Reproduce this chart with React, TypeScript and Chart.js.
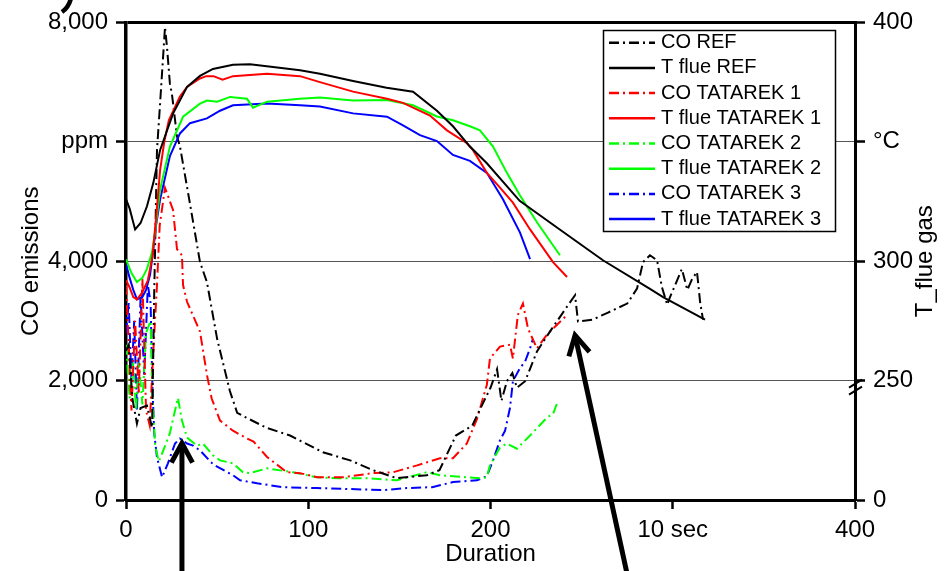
import React, { useEffect, useRef } from 'react';
import { Chart, registerables } from 'chart.js';

Chart.register(...registerables);

const FONT = "'Liberation Sans', Arial, Helvetica, sans-serif";

// ---- axis ticks ----
const X_TICK_VALUES = [0, 100, 200, 300, 400];
const X_TICK_LABELS = ['0', '100', '200', '10 sec', '400'];
const Y_TICK_VALUES = [0, 2000, 4000, 6000, 8000];
const Y_TICK_LABELS = ['0', '2,000', '4,000', 'ppm', '8,000'];
const Y2_TICK_VALUES = [200, 250, 300, 350, 400];
const Y2_TICK_LABELS = ['0', '250', '300', '°C', '400'];

const X_TITLE = 'Duration';
const Y_TITLE = 'CO emissions';
const Y2_TITLE = 'T_flue gas';

const SERIES_NAMES = [
  'CO REF',
  'T flue REF',
  'CO TATAREK 1',
  'T flue TATAREK 1',
  'CO TATAREK 2',
  'T flue TATAREK 2',
  'CO TATAREK 3',
  'T flue TATAREK 3',
];

// ---- CO emissions [duration, ppm] ----
const CO_REF: number[][] = [
  [0, 2500], [1.5, 2600], [3.5, 1700], [6, 1280], [8, 1540], [11.5, 1580], [14.3, 1210],
  [15, 2500], [15.5, 3500], [17, 5860], [18.7, 6640], [21.4, 7920], [22.5, 7585], [24.1, 6970],
  [25.2, 6800], [28, 6090], [29.6, 5925], [35, 4980], [40.6, 3985], [44.4, 3650], [50, 2700],
  [57, 1825], [61, 1460], [66, 1380], [77, 1210], [90, 1080], [108, 800], [123, 664],
  [135.5, 500], [148.7, 365], [165, 415], [172, 500], [181, 1080], [190, 1245], [193, 1440],
  [200, 1880], [203.6, 2190], [206, 1660], [209, 1990], [212, 2125], [214.5, 1880], [219, 1990],
  [225.5, 2490], [232.6, 2820], [242, 3240], [246.4, 3430], [248, 2990], [256, 3020],
  [264.5, 3140], [275, 3290], [280.4, 3540], [283.7, 3985], [287.5, 4100], [291.4, 4015],
  [294, 3570], [297, 3270], [298.5, 3400], [302, 3650], [305, 3870], [308, 3520], [310.6, 3700],
  [313.3, 3820], [315, 3320], [316.6, 3020],
];

const CO_T1: number[][] = [
  [0, 3600], [1.5, 2600], [3, 1500], [5, 3000], [7, 1800], [9, 3700], [11, 1500], [13, 1250],
  [15, 2500], [17, 3600], [18.5, 4600], [21.4, 5230], [25.8, 4860], [28, 4200], [30.7, 4100],
  [31.3, 3600], [33.5, 3320], [40.6, 2820], [44.4, 2100], [47, 1700], [51.6, 1330], [55, 1250],
  [58.7, 1160], [66.4, 1030], [70, 980], [77.4, 720], [88.3, 465], [95.5, 450], [105, 380],
  [119, 380], [135.5, 450], [146.5, 465], [159.7, 580], [172.3, 700], [179.4, 700], [187, 946],
  [192.6, 1360], [198, 1930], [199.7, 2370], [205.2, 2570], [210.7, 2600], [212.3, 2370],
  [215, 3100], [217.8, 3290], [220.6, 2870], [225.5, 2540], [231, 2770], [234.3, 2870], [242, 3100],
];

const CO_T2: number[][] = [
  [0, 2600], [2, 1700], [4, 2300], [5.5, 1500], [7, 2300], [9, 1600], [11, 2800], [13.5, 3000],
  [14.5, 1700], [16, 900], [18, 650], [19, 715], [24, 1110], [28.5, 1710], [30.7, 1330],
  [33.5, 1045], [39, 910], [42.2, 946], [47.7, 750], [51.6, 664], [58.7, 615], [64.2, 465],
  [68, 450], [77.4, 530], [91.6, 465], [104.8, 380], [117.4, 365], [132, 365], [148.7, 330],
  [165, 465], [172.3, 415], [187, 380], [194.2, 365], [198, 380], [199.7, 580], [205.2, 880],
  [209, 946], [214.5, 860], [221.7, 1080], [231, 1380], [234.3, 1440], [237, 1660],
];

const CO_T3: number[][] = [
  [0, 2800], [1.5, 3300], [3, 2000], [4.5, 3000], [6, 1500], [8, 3400], [10, 2100], [12, 3600],
  [13.5, 3300], [14.5, 1900], [15.5, 1110], [17, 715], [19.8, 380], [23, 615], [26.9, 946],
  [29.6, 1030], [33.5, 946], [36.8, 910], [40.6, 830], [47.7, 600], [50, 560], [58.7, 415],
  [62.6, 330], [71.9, 280], [86, 215], [104.8, 200], [123, 183], [141, 166], [154, 200],
  [168, 215], [179.4, 300], [192.6, 330], [198, 400], [201.4, 664], [205.2, 1000], [208, 1160],
  [210.7, 1545], [212.3, 1990], [216.2, 2210], [219, 2320], [221.7, 2540], [223.3, 2700],
];

// ---- flue gas temperature [duration, °C] ----
const T_REF: number[][] = [
  [0, 326], [2, 322], [5, 313.3], [8, 316], [11.5, 323], [15, 332.8], [18.7, 346.5],
  [25.8, 361.8], [33.5, 373], [40.6, 377.6], [47.7, 380.5], [58.7, 382.3], [68, 382.5],
  [80.7, 381.3], [95.5, 380], [106.4, 378.5], [124.6, 375.5], [143, 372.6], [157.5, 371],
  [170.6, 363], [179.4, 356.5], [188.7, 348], [198, 341], [216, 325.3], [238, 313.3],
  [261.7, 300.4], [287.5, 288.4], [294.7, 285], [317.7, 275.5],
];

const T_T1: number[][] = [
  [0, 292], [2, 289], [4, 285], [6, 284], [9, 287], [12, 292], [14.5, 302], [16.5, 318],
  [18.7, 338], [21, 350], [23.5, 359], [29.6, 369], [33.5, 373], [40.6, 376.5], [44, 377.5],
  [48, 377.5], [53, 376], [58.7, 377.5], [77.4, 378.5], [95.5, 377.5], [106.4, 375],
  [124.6, 371], [143.2, 368], [152, 366.3], [166.8, 361], [176.1, 354.8], [187.1, 349.4],
  [190.4, 346.5], [198, 337], [205.2, 330.8], [212.3, 324.5], [221.7, 313.3], [234.3, 299.6],
  [242, 293.4],
];

const T_T2: number[][] = [
  [0, 300.8], [3, 295], [6, 291.3], [9, 293], [11.5, 296.8], [14.3, 303.8], [15.9, 312],
  [18.7, 330], [24.1, 348], [31.3, 360.5], [40.6, 366], [44.4, 367.3], [50, 366.8],
  [57.1, 368.8], [66.4, 368], [69.7, 364.3], [77.4, 366.8], [95.5, 368], [106.4, 368.5],
  [124.6, 367.3], [143.2, 367.5], [157.5, 365.3], [170.6, 360.6], [179.4, 359], [188.7, 356.5],
  [194.2, 354.8], [201.4, 348], [209, 337], [216.2, 327.5], [225.5, 316.3], [238.1, 302.5],
];

const T_T3: number[][] = [
  [0, 298.8], [2, 293], [4, 288], [6, 284], [9, 285], [11, 288], [13.2, 294.3], [14.8, 303.8],
  [16.5, 315], [18.7, 325.8], [24.1, 344], [29.6, 353.5], [35.1, 357.8], [44.4, 359.8],
  [51.6, 363], [58.7, 365.3], [77.4, 366], [95.5, 365.3], [106.4, 364.8], [124.6, 361.9],
  [143.2, 360.5], [152, 356.9], [161.3, 352.8], [170.6, 350.3], [179.4, 344.5], [188.7, 342],
  [198, 337], [206.9, 325.8], [216.2, 312], [221.7, 300.9],
];

// ---- annotation arrows [duration, ppm] : tail -> tip ----
const ARROW_1 = [[30.7, -1400], [30.7, 950]];
const ARROW_2 = [[275.4, -1300], [246.4, 2760]];

const COLORS = ['#000000', '#000000', '#ff0000', '#ff0000', '#00ff00', '#00ff00', '#0000ff', '#0000ff'];
const DASH_DOT = [10, 4, 2, 4];

function makeDataset(i: number, data: number[][], axis: string) {
  const dashed = axis === 'y';
  return {
    label: SERIES_NAMES[i],
    data: data.map(([x, y]) => ({ x, y })),
    borderColor: COLORS[i],
    backgroundColor: COLORS[i],
    borderWidth: 2,
    borderDash: dashed ? DASH_DOT : [],
    pointRadius: 0,
    pointHoverRadius: 0,
    tension: 0,
    fill: false,
    yAxisID: axis,
    order: dashed ? 1 : 0,
  };
}

const decorPlugin = {
  id: 'decor',
  afterDraw(chart: any) {
    const ctx: CanvasRenderingContext2D = chart.ctx;
    const xs = chart.scales.x;
    const ys = chart.scales.y;
    const y2 = chart.scales.y2;

    // right axis title (reads bottom to top)
    ctx.save();
    ctx.fillStyle = '#000';
    ctx.font = `24px ${FONT}`;
    ctx.translate(932, (chart.chartArea.top + chart.chartArea.bottom) / 2);
    ctx.rotate(-Math.PI / 2);
    ctx.textAlign = 'center';
    ctx.textBaseline = 'alphabetic';
    ctx.fillText(Y2_TITLE, 0, 0);
    ctx.restore();

    // axis break marks on the right axis
    const bx = chart.chartArea.right;
    const by = y2.getPixelForValue(250);
    ctx.save();
    ctx.strokeStyle = '#000';
    ctx.lineWidth = 2;
    for (const dy of [3, 10]) {
      ctx.beginPath();
      ctx.moveTo(bx - 6, by + dy + 4);
      ctx.lineTo(bx + 7, by + dy - 4);
      ctx.stroke();
    }
    ctx.restore();

    // legend box
    const lx = 603.5, lt = 30.5, lw = 232, lh = 201;
    ctx.save();
    ctx.fillStyle = '#fff';
    ctx.fillRect(lx, lt, lw, lh);
    ctx.strokeStyle = '#000';
    ctx.lineWidth = 1.5;
    ctx.strokeRect(lx, lt, lw, lh);
    chart.data.datasets.forEach((ds: any, i: number) => {
      const yy = 42.7 + i * 25.2;
      ctx.save();
      ctx.strokeStyle = ds.borderColor;
      ctx.lineWidth = 2.5;
      ctx.setLineDash(ds.borderDash || []);
      ctx.beginPath();
      ctx.moveTo(609, yy);
      ctx.lineTo(655, yy);
      ctx.stroke();
      ctx.restore();
      ctx.fillStyle = '#000';
      ctx.font = `20px ${FONT}`;
      ctx.textAlign = 'left';
      ctx.textBaseline = 'middle';
      ctx.fillText(ds.label, 661, yy);
    });
    ctx.restore();

    // arrows
    const drawArrow = (pts: number[][]) => {
      const x0 = xs.getPixelForValue(pts[0][0]);
      const y0 = ys.getPixelForValue(pts[0][1]);
      const x1 = xs.getPixelForValue(pts[1][0]);
      const y1 = ys.getPixelForValue(pts[1][1]);
      const ang = Math.atan2(y1 - y0, x1 - x0);
      const hl = 22, ha = 0.5;
      ctx.save();
      ctx.strokeStyle = '#000';
      ctx.lineWidth = 5;
      ctx.lineCap = 'butt';
      ctx.lineJoin = 'miter';
      ctx.beginPath();
      ctx.moveTo(x0, y0);
      ctx.lineTo(x1, y1);
      ctx.stroke();
      ctx.beginPath();
      ctx.moveTo(x1 - hl * Math.cos(ang - ha), y1 - hl * Math.sin(ang - ha));
      ctx.lineTo(x1, y1);
      ctx.lineTo(x1 - hl * Math.cos(ang + ha), y1 - hl * Math.sin(ang + ha));
      ctx.stroke();
      ctx.restore();
    };
    drawArrow(ARROW_1);
    drawArrow(ARROW_2);

    // clipped fragment at top-left
    ctx.save();
    ctx.strokeStyle = '#000';
    ctx.lineWidth = 4.5;
    ctx.beginPath();
    ctx.moveTo(71, -2);
    ctx.quadraticCurveTo(69, 7, 62, 12);
    ctx.stroke();
    ctx.restore();
  },
};

export default function App() {
  const canvasRef = useRef<HTMLCanvasElement | null>(null);

  useEffect(() => {
    if (!canvasRef.current) return;
    const datasets = [
      makeDataset(0, CO_REF, 'y'),
      makeDataset(1, T_REF, 'y2'),
      makeDataset(2, CO_T1, 'y'),
      makeDataset(3, T_T1, 'y2'),
      makeDataset(4, CO_T2, 'y'),
      makeDataset(5, T_T2, 'y2'),
      makeDataset(6, CO_T3, 'y'),
      makeDataset(7, T_T3, 'y2'),
    ];
    const tickFont = { family: FONT, size: 24 };
    const chart = new Chart(canvasRef.current, {
      type: 'line',
      data: { datasets } as any,
      plugins: [decorPlugin],
      options: {
        animation: false,
        responsive: false,
        maintainAspectRatio: false,
        devicePixelRatio: 1,
        layout: { padding: { top: 18, left: 0, right: 0, bottom: 0 } },
        plugins: { legend: { display: false }, tooltip: { enabled: false } },
        events: [],
        scales: {
          x: {
            type: 'linear',
            min: 0,
            max: 400,
            afterBuildTicks: (s: any) => { s.ticks = X_TICK_VALUES.map((v) => ({ value: v })); },
            afterFit: (s: any) => { s.height = 71; },
            ticks: {
              color: '#000',
              font: tickFont,
              padding: 7,
              maxRotation: 0,
              autoSkip: false,
              callback: (v: any) => X_TICK_LABELS[X_TICK_VALUES.indexOf(Number(v))] ?? '',
            },
            grid: { drawOnChartArea: false, drawTicks: true, tickLength: 9, tickColor: '#000', tickWidth: 2.5 },
            border: { display: true, color: '#000', width: 3 },
            title: { display: true, text: X_TITLE, color: '#000', font: { family: FONT, size: 24 }, padding: { top: 0, bottom: 2 } },
          },
          y: {
            type: 'linear',
            position: 'left',
            min: 0,
            max: 8000,
            afterBuildTicks: (s: any) => { s.ticks = Y_TICK_VALUES.map((v) => ({ value: v })); },
            afterFit: (s: any) => { s.width = 126; },
            ticks: {
              color: '#000',
              font: tickFont,
              padding: 8,
              autoSkip: false,
              callback: (v: any) => Y_TICK_LABELS[Y_TICK_VALUES.indexOf(Number(v))] ?? '',
            },
            grid: {
              drawOnChartArea: true,
              drawTicks: true,
              tickLength: 10,
              tickColor: '#000',
              tickWidth: 2.5,
              color: (c: any) => (c.tick && c.tick.value === 8000 ? '#000' : c.tick && c.tick.value === 0 ? 'rgba(0,0,0,0)' : '#555'),
              lineWidth: (c: any) => (c.tick && c.tick.value === 8000 ? 3 : 1),
            },
            border: { display: true, color: '#000', width: 3.5 },
            title: { display: true, text: Y_TITLE, color: '#000', font: { family: FONT, size: 24 }, padding: { top: 17, bottom: 0 } },
          },
          y2: {
            type: 'linear',
            position: 'right',
            min: 200,
            max: 400,
            afterBuildTicks: (s: any) => { s.ticks = Y2_TICK_VALUES.map((v) => ({ value: v })); },
            afterFit: (s: any) => { s.width = 94; },
            ticks: {
              color: '#000',
              font: tickFont,
              padding: 8,
              autoSkip: false,
              callback: (v: any) => Y2_TICK_LABELS[Y2_TICK_VALUES.indexOf(Number(v))] ?? '',
            },
            grid: { drawOnChartArea: false, drawTicks: true, tickLength: 10, tickColor: '#000', tickWidth: 2.5 },
            border: { display: true, color: '#000', width: 3 },
          },
        },
      } as any,
    });
    return () => chart.destroy();
  }, []);

  return (
    <div style={{ position: 'absolute', left: 0, top: 0, width: 949, height: 571, background: '#fff' }}>
      <canvas ref={canvasRef} width={949} height={571} style={{ width: 949, height: 571, display: 'block' }} />
    </div>
  );
}
